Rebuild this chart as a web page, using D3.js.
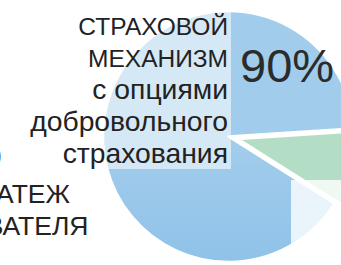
<!DOCTYPE html>
<html><head><meta charset="utf-8">
<script src="https://cdn.jsdelivr.net/npm/d3@7"></script>
<style>html,body{margin:0;padding:0;background:#fff;overflow:hidden}</style>
</head><body>
<svg id="c" width="341" height="265"></svg>
<script>
const categories = ["Страховой механизм с опциями добровольного страхования", "Платеж страхователя"];
const values = [90, 10];
const percentLabels = ["90%", "10%"];
const labelLinesMain = ["СТРАХОВОЙ", "МЕХАНИЗМ", "с опциями", "добровольного", "страхования"];
const labelLinesSide = ["ПЛАТЕЖ", "СТРАХОВАТЕЛЯ"];

const svg = d3.select("#c");
const cx = 228.5, cy = 136.5, R = 125.5;
const defs = svg.append("defs");
const gb = defs.append("linearGradient").attr("id","gBlue").attr("gradientUnits","userSpaceOnUse")
  .attr("x1",0).attr("y1",cy-R).attr("x2",0).attr("y2",cy+R);
gb.append("stop").attr("offset",0).attr("stop-color","#a2cceb");
gb.append("stop").attr("offset",1).attr("stop-color","#78b7e6");
const gg = defs.append("linearGradient").attr("id","gGreen").attr("gradientUnits","userSpaceOnUse")
  .attr("x1",0).attr("y1",125).attr("x2",0).attr("y2",260);
gg.append("stop").attr("offset",0).attr("stop-color","#b3ddc4");
gg.append("stop").attr("offset",1).attr("stop-color","#9bd2ae");
const fills = ["url(#gBlue)", "url(#gGreen)"];
const explode = [0, 10];

const deg = Math.PI/180;
const pie = d3.pie().sort(null).startAngle(122.3*deg).endAngle(122.3*deg + 2*Math.PI);
const arc = d3.arc().innerRadius(0).outerRadius(R);
const arcs = pie(values);

const g = svg.append("g").attr("transform",`translate(${cx},${cy})`);
g.selectAll("path").data(arcs).join("path")
  .attr("d", arc)
  .attr("transform", (d,i) => {
    const m = (d.startAngle + d.endAngle)/2;
    return `translate(${explode[i]*Math.sin(m)},${-explode[i]*Math.cos(m)})`;
  })
  .attr("fill", (d,i) => fills[i])
  .attr("stroke", "#fff").attr("stroke-width", 2.5).attr("stroke-linejoin","round");

// semi-transparent label backgrounds
svg.append("rect").attr("x",60).attr("y",6).attr("width",171).attr("height",163)
  .attr("fill","#fff").attr("fill-opacity",0.55);
svg.append("rect").attr("x",291).attr("y",180).attr("width",60).attr("height",67)
  .attr("fill","#fff").attr("fill-opacity",0.8);

const font = "'Liberation Sans', Arial, sans-serif";
const isLower = t => t !== t.toUpperCase();
svg.append("g").selectAll("text").data(labelLinesMain).join("text")
  .attr("x",228).attr("y",(d,i)=>34.5 + i*32)
  .attr("text-anchor","end").attr("font-family",font)
  .attr("font-size",d => isLower(d) ? 28.3 : 24.5)
  .attr("fill","#222").text(d=>d);

svg.append("text").attr("x",240).attr("y",81.7).attr("font-family",font).attr("font-size",47)
  .attr("fill","#2b2b2b").text(percentLabels[0]);

svg.append("text").attr("x",2).attr("y",167).attr("text-anchor","end").attr("font-family",font)
  .attr("font-size",47).attr("fill","#2b2b2b").text(percentLabels[1]);

const sideEnds = [70, 88.5];
svg.append("g").selectAll("text").data(labelLinesSide).join("text")
  .attr("x",(d,i)=>sideEnds[i]).attr("y",(d,i)=>203 + i*32)
  .attr("text-anchor","end").attr("font-family",font)
  .attr("font-size",26.5).attr("fill","#222").text(d=>d);
</script>
</body></html>
